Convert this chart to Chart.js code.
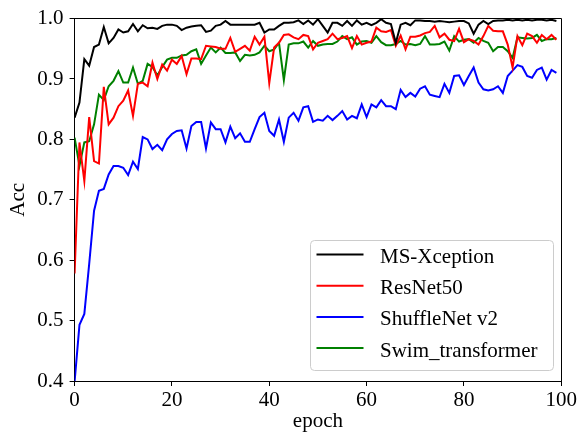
<!DOCTYPE html>
<html>
<head>
<meta charset="utf-8">
<script src="https://cdn.jsdelivr.net/npm/chart.js@4.4.1/dist/chart.umd.min.js"></script>
<style>
  html, body { margin: 0; padding: 0; background: #ffffff; }
  canvas { display: block; }
</style>
</head>
<body>
<canvas id="c" width="579" height="434" style="width:579px;height:434px"></canvas>
<script>
const epochs = Array.from({ length: 100 }, (_, i) => i);
const xTicks = [0, 20, 40, 60, 80, 100];
const yTicks = [0.4, 0.5, 0.6, 0.7, 0.8, 0.9, 1.0];
const seriesNames = ['MS-Xception', 'ResNet50', 'ShuffleNet v2', 'Swim_transformer'];
const seriesColors = ['#000000', '#ff0000', '#0000ff', '#008000'];

const msXception = [
  0.836, 0.861, 0.933, 0.922, 0.953, 0.957, 0.986, 0.959, 0.968, 0.982,
  0.977, 0.979, 0.991, 0.979, 0.989, 0.984, 0.985, 0.983, 0.988, 0.990,
  0.990, 0.988, 0.981, 0.985, 0.987, 0.988, 0.989, 0.978, 0.980, 0.988,
  0.990, 0.996, 0.990, 0.990, 0.990, 0.990, 0.990, 0.990, 0.993, 0.977,
  0.982, 0.982, 0.988, 0.993, 0.993, 0.994, 0.997, 0.991, 0.997, 0.990,
  0.999, 0.988, 0.977, 0.993, 0.993, 0.988, 0.996, 0.988, 0.997, 0.990,
  0.993, 0.989, 0.993, 0.999, 0.993, 0.991, 0.960, 0.990, 0.993, 0.989,
  0.997, 0.997, 0.996, 0.996, 0.995, 0.996, 0.995, 0.994, 0.995, 0.996,
  0.996, 0.992, 0.975, 0.990, 0.996, 0.991, 0.996, 0.997, 0.997, 0.998,
  0.997, 0.998, 0.997, 0.998, 0.997, 0.998, 0.998, 0.997, 0.998, 0.996
];

const resNet50 = [
  0.578, 0.795, 0.731, 0.837, 0.764, 0.760, 0.887, 0.825, 0.836, 0.855,
  0.864, 0.881, 0.839, 0.892, 0.894, 0.888, 0.927, 0.900, 0.924, 0.914,
  0.932, 0.925, 0.938, 0.908, 0.934, 0.934, 0.933, 0.955, 0.954, 0.953,
  0.950, 0.950, 0.968, 0.945, 0.950, 0.955, 0.947, 0.970, 0.957, 0.970,
  0.893, 0.952, 0.960, 0.973, 0.974, 0.969, 0.966, 0.973, 0.971, 0.949,
  0.960, 0.963, 0.966, 0.975, 0.966, 0.968, 0.971, 0.951, 0.971, 0.957,
  0.960, 0.962, 0.985, 0.979, 0.978, 0.981, 0.955, 0.972, 0.949, 0.970,
  0.970, 0.972, 0.976, 0.978, 0.988, 0.969, 0.975, 0.965, 0.963, 0.983,
  0.961, 0.966, 0.963, 0.957, 0.971, 0.988, 0.980, 0.979, 0.979, 0.957,
  0.919, 0.971, 0.956, 0.975, 0.971, 0.960, 0.973, 0.966, 0.973, 0.965
];

const shuffleNetV2 = [
  0.399, 0.493, 0.511, 0.594, 0.682, 0.715, 0.718, 0.742, 0.756, 0.756,
  0.753, 0.741, 0.763, 0.751, 0.804, 0.800, 0.784, 0.791, 0.782, 0.800,
  0.809, 0.814, 0.815, 0.785, 0.822, 0.829, 0.829, 0.785, 0.828, 0.817,
  0.817, 0.795, 0.821, 0.802, 0.810, 0.796, 0.796, 0.817, 0.837, 0.844,
  0.814, 0.806, 0.833, 0.796, 0.836, 0.844, 0.831, 0.853, 0.855, 0.829,
  0.833, 0.831, 0.839, 0.832, 0.839, 0.847, 0.833, 0.839, 0.835, 0.858,
  0.837, 0.858, 0.853, 0.865, 0.855, 0.855, 0.850, 0.882, 0.870, 0.877,
  0.871, 0.884, 0.888, 0.874, 0.872, 0.870, 0.892, 0.877, 0.905, 0.906,
  0.890, 0.905, 0.919, 0.894, 0.883, 0.881, 0.883, 0.888, 0.877, 0.905,
  0.914, 0.923, 0.920, 0.905, 0.902, 0.915, 0.919, 0.899, 0.915, 0.910
];

const swimTransformer = [
  0.803, 0.756, 0.795, 0.797, 0.825, 0.874, 0.865, 0.888, 0.897, 0.913,
  0.894, 0.894, 0.919, 0.892, 0.897, 0.925, 0.920, 0.906, 0.920, 0.932,
  0.935, 0.935, 0.939, 0.940, 0.946, 0.949, 0.925, 0.939, 0.952, 0.944,
  0.952, 0.943, 0.943, 0.944, 0.930, 0.940, 0.939, 0.940, 0.944, 0.955,
  0.946, 0.949, 0.960, 0.898, 0.957, 0.959, 0.959, 0.962, 0.952, 0.963,
  0.955, 0.957, 0.958, 0.958, 0.962, 0.971, 0.966, 0.969, 0.957, 0.962,
  0.963, 0.960, 0.971, 0.961, 0.956, 0.956, 0.958, 0.963, 0.957, 0.958,
  0.956, 0.958, 0.971, 0.957, 0.957, 0.958, 0.962, 0.947, 0.971, 0.962,
  0.965, 0.966, 0.960, 0.968, 0.963, 0.960, 0.946, 0.953, 0.953, 0.946,
  0.935, 0.969, 0.968, 0.967, 0.968, 0.973, 0.963, 0.966, 0.966, 0.968
];

const seriesValues = [msXception, resNet50, shuffleNetV2, swimTransformer];

const FONT_FAMILY = '"Liberation Serif", "DejaVu Serif", "Times New Roman", serif';
const tickFont = { family: FONT_FAMILY, size: 21 };
const titleFont = { family: FONT_FAMILY, size: 21 };

const datasets = seriesNames.map((name, i) => ({
  label: name,
  data: epochs.map((e, j) => ({ x: e, y: seriesValues[i][j] })),
  borderColor: seriesColors[i],
  backgroundColor: seriesColors[i],
  borderWidth: 2,
  pointRadius: 0,
  fill: false,
  tension: 0
}));

const framePlugin = {
  id: 'frame',
  afterDraw(chart) {
    const { ctx, chartArea: a } = chart;
    ctx.save();
    ctx.strokeStyle = '#000000';
    ctx.lineWidth = 1;
    const l = Math.round(a.left) - 0.5, r = Math.round(a.right) + 0.5;
    const t = Math.round(a.top) - 0.5, b = Math.round(a.bottom) + 0.5;
    ctx.beginPath();
    ctx.moveTo(l, t); ctx.lineTo(r, t); ctx.lineTo(r, b);
    ctx.stroke();
    ctx.restore();
  }
};

const legendPlugin = {
  id: 'innerLegend',
  afterDraw(chart) {
    const { ctx } = chart;
    const bx = 310.5, by = 240.5, bw = 243, bh = 130, rad = 4;
    ctx.save();
    ctx.beginPath();
    ctx.moveTo(bx + rad, by);
    ctx.lineTo(bx + bw - rad, by);
    ctx.arcTo(bx + bw, by, bx + bw, by + rad, rad);
    ctx.lineTo(bx + bw, by + bh - rad);
    ctx.arcTo(bx + bw, by + bh, bx + bw - rad, by + bh, rad);
    ctx.lineTo(bx + rad, by + bh);
    ctx.arcTo(bx, by + bh, bx, by + bh - rad, rad);
    ctx.lineTo(bx, by + rad);
    ctx.arcTo(bx, by, bx + rad, by, rad);
    ctx.closePath();
    ctx.fillStyle = 'rgba(255,255,255,0.8)';
    ctx.fill();
    ctx.strokeStyle = '#cccccc';
    ctx.lineWidth = 1;
    ctx.stroke();

    ctx.font = '21px ' + FONT_FAMILY;
    ctx.textBaseline = 'alphabetic';
    ctx.textAlign = 'left';
    chart.data.datasets.forEach((ds, i) => {
      const y = 254.5 + i * 31.2;
      ctx.beginPath();
      ctx.strokeStyle = ds.borderColor;
      ctx.lineWidth = 2;
      ctx.moveTo(316.5, y);
      ctx.lineTo(363.5, y);
      ctx.stroke();
      ctx.fillStyle = '#000000';
      ctx.fillText(ds.label, 380, y + 8.5);
    });
    ctx.restore();
  }
};

new Chart(document.getElementById('c').getContext('2d'), {
  type: 'line',
  data: { datasets },
  options: {
    responsive: false,
    animation: false,
    devicePixelRatio: 1,
    layout: { padding: { top: 17.5, right: 15.5, left: 0, bottom: 0 } },
    scales: {
      x: {
        type: 'linear',
        min: xTicks[0],
        max: xTicks[xTicks.length - 1],
        afterBuildTicks: s => { s.ticks = xTicks.map(v => ({ value: v })); },
        ticks: { color: '#000000', font: tickFont, padding: 2, maxRotation: 0, autoSkip: false,
                 callback: v => String(v) },
        grid: { drawOnChartArea: false, drawTicks: true, tickLength: 5, color: '#000000', tickWidth: 1 },
        border: { display: true, color: '#000000', width: 1 },
        title: { display: true, text: 'epoch', color: '#000000', font: titleFont, padding: { top: 0, bottom: 0 } },
        afterFit: s => { s.height = 53; }
      },
      y: {
        type: 'linear',
        min: yTicks[0],
        max: yTicks[yTicks.length - 1],
        afterBuildTicks: s => { s.ticks = yTicks.map(v => ({ value: v })); },
        ticks: { color: '#000000', font: tickFont, padding: 6, autoSkip: false,
                 callback: v => Number(v).toFixed(1) },
        grid: { drawOnChartArea: false, drawTicks: true, tickLength: 5, color: '#000000', tickWidth: 1 },
        border: { display: true, color: '#000000', width: 1 },
        title: { display: true, text: 'Acc', color: '#000000', font: titleFont, padding: { top: 6, bottom: 0 } },
        afterFit: s => { s.width = 74.6; }
      }
    },
    plugins: {
      legend: { display: false },
      tooltip: { enabled: false }
    }
  },
  plugins: [framePlugin, legendPlugin]
});
</script>
</body>
</html>
